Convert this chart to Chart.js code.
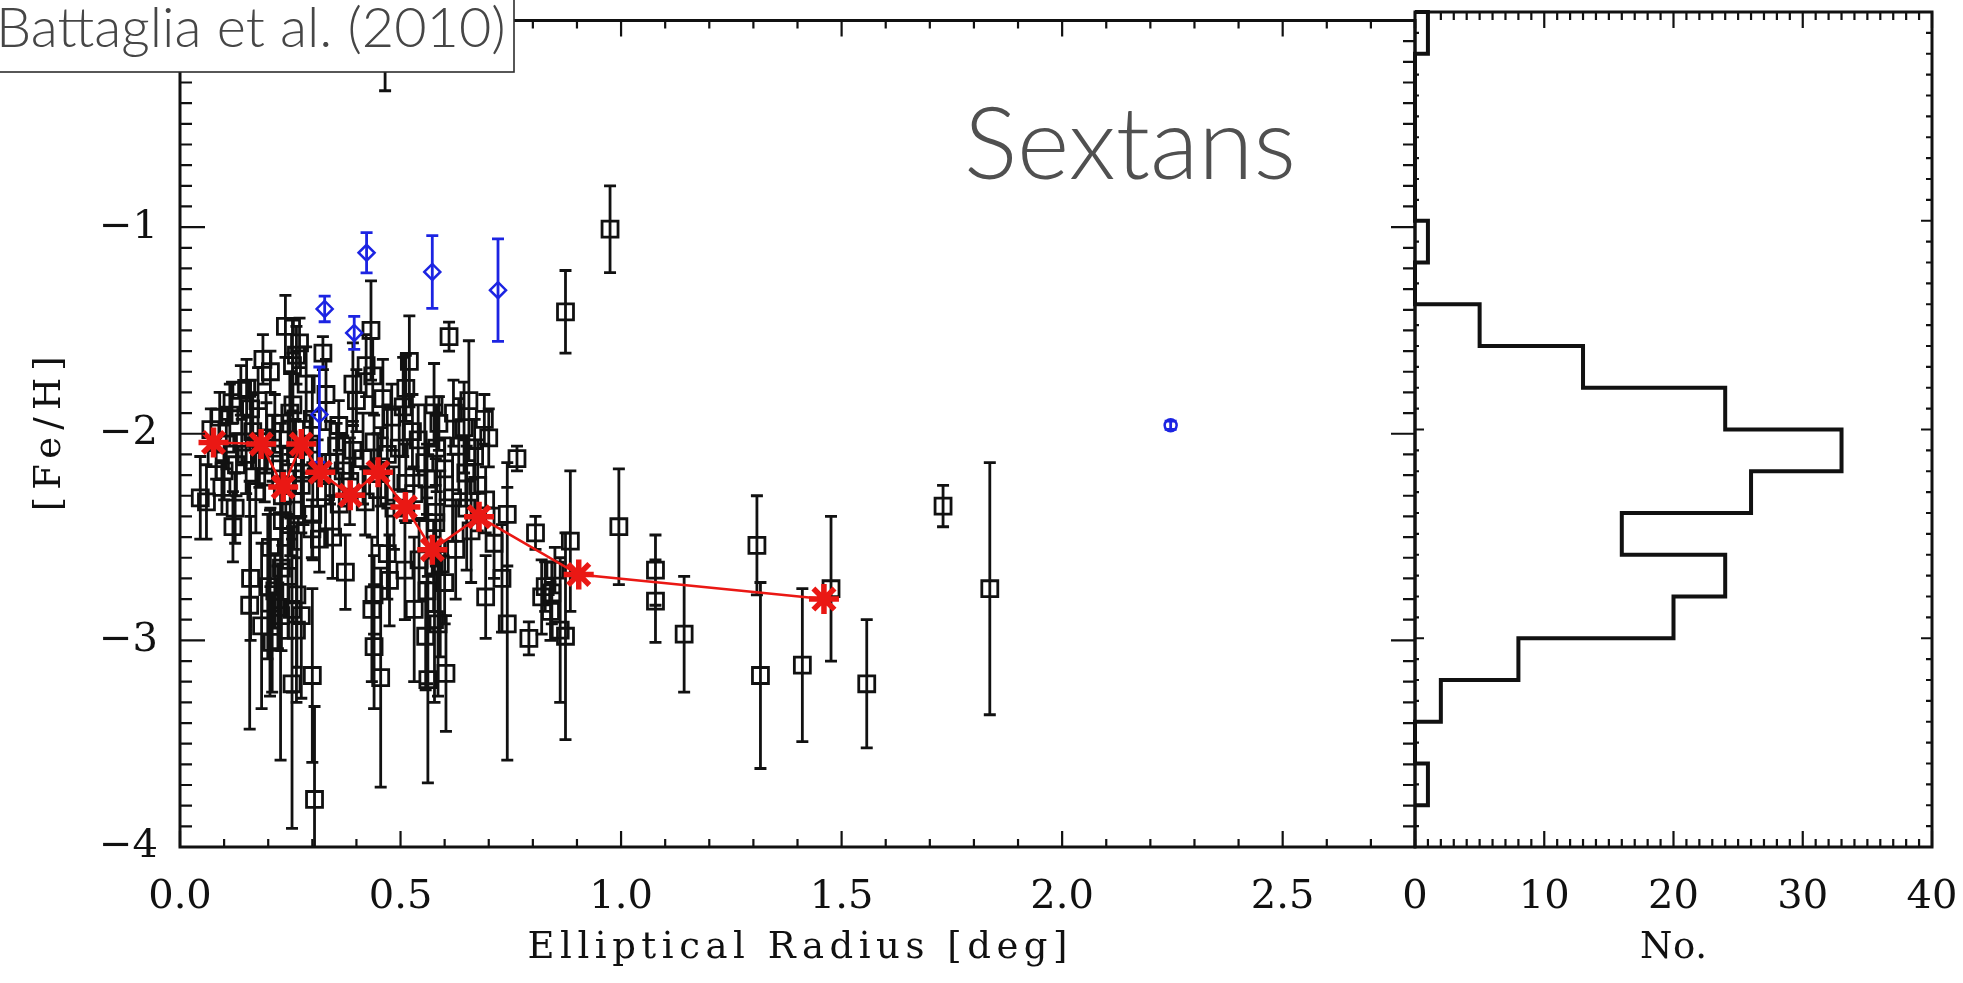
<!DOCTYPE html>
<html>
<head>
<meta charset="utf-8">
<title>Sextans [Fe/H] vs elliptical radius</title>
<script src="https://cdn.jsdelivr.net/npm/chart.js@4.4.1/dist/chart.umd.min.js"></script>
<style>
  html, body { margin: 0; padding: 0; background: #fff; }
  body { position: relative; width: 1963px; height: 983px; overflow: hidden; }
  canvas { position: absolute; top: 0; }
  #scatter { left: 0; }
  #hist { left: 1390px; }
</style>
</head>
<body>
<canvas id="scatter" width="1450" height="983"></canvas>
<canvas id="hist" width="573" height="983"></canvas>
<script>
// members: elliptical radius [deg], [Fe/H], 1-sigma error (grouped by 0.2 dex bin)
const memberR = [
  0.465, 0.975,
  0.874, 0.433, 0.610, 0.239, 0.271,
  0.324, 0.188, 0.520, 0.422, 0.437, 0.264, 0.512, 0.151, 0.392, 0.286, 0.205, 0.255, 0.138,
  0.177, 0.655, 0.576, 0.460, 0.256, 0.331, 0.113, 0.090, 0.644, 0.527, 0.118, 0.160, 0.249, 0.400, 0.506, 0.587, 0.620, 0.070, 0.215, 0.300, 0.360, 0.480, 0.690, 0.165,
  0.105, 0.128, 0.196, 0.392, 0.497, 0.648, 0.764, 0.082, 0.100, 0.140, 0.150, 0.180, 0.210, 0.228, 0.245, 0.262, 0.280, 0.295, 0.340, 0.355, 0.370, 0.415, 0.440, 0.455, 0.470, 0.540, 0.555, 0.582, 0.600, 0.632, 0.668, 0.700, 0.312,
  0.046, 0.060, 0.301, 0.361, 0.512, 0.580, 0.618, 0.693, 0.742, 0.095, 0.125, 0.172, 0.192, 0.232, 0.258, 0.275, 0.330, 0.385, 0.420, 0.448, 0.485, 0.530, 0.560, 0.650, 0.675, 1.730,
  0.120, 0.316, 0.346, 0.625, 0.806, 0.885, 0.995, 1.308, 0.299, 0.232, 0.580, 0.660, 0.205, 0.712, 0.470, 0.250,
  0.828, 0.843, 0.542, 0.375, 0.475, 0.199, 1.078, 1.836, 1.476, 0.693, 0.160, 0.230, 0.265, 0.245, 0.215, 0.590, 0.440, 0.510, 0.600, 0.575, 0.730, 0.850, 0.820, 0.560,
  0.158, 0.204, 0.254, 0.264, 0.435, 0.531, 0.577, 0.742, 0.557, 0.862, 0.874, 0.791, 1.078, 1.143, 0.185, 0.228, 0.222, 0.585, 0.275, 0.840,
  0.209, 0.440, 0.300, 0.455, 0.603, 1.316, 1.411, 0.562,
  0.254, 1.557,
  0.305
];
const memberFeH = [
  -0.14, -1.01,
  -1.41, -1.50, -1.53, -1.48, -1.56,
  -1.61, -1.64, -1.65, -1.67, -1.72, -1.62, -1.78, -1.78, -1.76, -1.76, -1.70, -1.67, -1.79,
  -1.84, -1.84, -1.86, -1.83, -1.86, -1.81, -1.91, -1.92, -1.97, -1.99, -1.85, -1.88, -1.90, -1.84, -1.87, -1.95, -1.90, -1.98, -1.95, -1.93, -1.96, -1.92, -1.93, -1.99,
  -2.05, -2.15, -2.02, -2.08, -2.07, -2.19, -2.12, -2.12, -2.18, -2.04, -2.10, -2.13, -2.07, -2.17, -2.03, -2.11, -2.19, -2.05, -2.14, -2.06, -2.18, -2.12, -2.04, -2.16, -2.10, -2.03, -2.14, -2.07, -2.17, -2.06, -2.11, -2.02, -2.19,
  -2.31, -2.33, -2.39, -2.34, -2.24, -2.38, -2.31, -2.32, -2.39, -2.26, -2.36, -2.28, -2.21, -2.30, -2.37, -2.25, -2.28, -2.23, -2.33, -2.27, -2.36, -2.29, -2.22, -2.36, -2.25, -2.35,
  -2.45, -2.51, -2.50, -2.56, -2.48, -2.52, -2.45, -2.54, -2.46, -2.42, -2.43, -2.47, -2.55, -2.53, -2.58, -2.44,
  -2.74, -2.77, -2.61, -2.67, -2.71, -2.74, -2.66, -2.75, -2.75, -2.79, -2.70, -2.65, -2.78, -2.69, -2.76, -2.63, -2.78, -2.66, -2.72, -2.64, -2.70, -2.66, -2.79, -2.76,
  -2.83, -2.82, -2.85, -2.95, -2.85, -2.85, -2.90, -2.92, -2.98, -2.95, -2.98, -2.99, -2.81, -2.97, -2.93, -2.88, -2.84, -2.92, -2.88, -2.86,
  -3.01, -3.03, -3.17, -3.18, -3.16, -3.17, -3.12, -3.19,
  -3.21, -3.21,
  -3.77
];
const memberErr = [
  0.20, 0.21,
  0.20, 0.24, 0.07, 0.15, 0.12,
  0.08, 0.12, 0.22, 0.15, 0.18, 0.14, 0.16, 0.14, 0.20, 0.18, 0.10, 0.22, 0.12,
  0.16, 0.29, 0.20, 0.19, 0.25, 0.17, 0.15, 0.12, 0.22, 0.18, 0.10, 0.14, 0.20, 0.15, 0.24, 0.13, 0.16, 0.10, 0.14, 0.21, 0.12, 0.16, 0.12, 0.18,
  0.12, 0.15, 0.17, 0.14, 0.20, 0.16, 0.06, 0.10, 0.14, 0.11, 0.19, 0.13, 0.16, 0.22, 0.12, 0.18, 0.25, 0.14, 0.20, 0.11, 0.17, 0.22, 0.13, 0.19, 0.24, 0.17, 0.28, 0.21, 0.15, 0.23, 0.18, 0.14, 0.16,
  0.20, 0.18, 0.22, 0.15, 0.19, 0.26, 0.21, 0.16, 0.25, 0.13, 0.17, 0.20, 0.12, 0.24, 0.19, 0.15, 0.18, 0.21, 0.16, 0.27, 0.20, 0.13, 0.17, 0.30, 0.22, 0.10,
  0.17, 0.16, 0.20, 0.24, 0.08, 0.34, 0.28, 0.24, 0.14, 0.21, 0.18, 0.25, 0.19, 0.17, 0.22, 0.15,
  0.12, 0.15, 0.20, 0.18, 0.22, 0.35, 0.17, 0.61, 0.35, 0.20, 0.30, 0.40, 0.35, 0.30, 0.18, 0.45, 0.19, 0.24, 0.20, 0.22, 0.26, 0.11, 0.18, 0.45,
  0.60, 0.45, 0.40, 0.35, 0.35, 0.35, 0.40, 0.66, 0.26, 0.35, 0.50, 0.08, 0.20, 0.28, 0.40, 0.70, 0.20, 0.35, 0.40, 0.14,
  0.24, 0.30, 0.42, 0.53, 0.28, 0.45, 0.37, 0.50,
  0.70, 0.31,
  0.45
];

// metal-rich stars shown in blue
const blueR = [0.328, 0.423, 0.395, 0.572, 0.721, 0.316];
const blueFeH = [-1.396, -1.124, -1.512, -1.217, -1.305, -1.907];
const blueErr = [0.062, 0.097, 0.080, 0.176, 0.248, 0.230];
const farR = [2.246];
const farFeH = [-1.959];
const farErr = [0.02];

// running mean along radius
const meanR = [0.076, 0.184, 0.234, 0.275, 0.318, 0.386, 0.449, 0.511, 0.572, 0.678, 0.904, 1.460];
const meanFeH = [-2.042, -2.050, -2.258, -2.050, -2.186, -2.298, -2.186, -2.354, -2.561, -2.402, -2.681, -2.800];

// [Fe/H] histogram, 0.2 dex bins from -3.8 upward
const binLow = [-3.8, -3.6, -3.4, -3.2, -3.0, -2.8, -2.6, -2.4, -2.2, -2.0, -1.8, -1.6, -1.4, -1.2, -1.0, -0.8, -0.6, -0.4, -0.2];
const binCount = [1, 0, 2, 8, 20, 24, 16, 26, 33, 24, 13, 5, 0, 1, 0, 0, 0, 0, 1];
const binWidth = 0.2;

const radiusTicks = [0, 0.5, 1.0, 1.5, 2.0, 2.5];
const fehTicks = [-4, -3, -2, -1, 0];
const countTicks = [0, 10, 20, 30, 40];

const serif = '"DejaVu Serif", "Liberation Serif", serif';
const sans = 'Lato, "Open Sans", sans-serif';
const ink = '#111';
const red = 'rgb(234, 24, 20)';
const blue = 'rgb(28, 36, 226)';

function points(xs, ys) {
  return xs.map((x, i) => ({ x: x, y: ys[i] }));
}

// step outline of the histogram, lying along the [Fe/H] axis
const histLine = [{ x: 0, y: binLow[0] }];
binCount.forEach((c, i) => {
  histLine.push({ x: c, y: binLow[i] }, { x: c, y: binLow[i] + binWidth });
});
histLine.push({ x: 0, y: binLow[binLow.length - 1] + binWidth });

function eachTick(min, max, minor, major, fn) {
  const n = Math.round((max - min) / minor);
  for (let i = 0; i <= n; i++) {
    const v = min + i * minor;
    const r = v / major;
    fn(v, Math.abs(r - Math.round(r)) < 1e-6);
  }
}

// edge labels may hang over the plot box; don't let them shrink it
function fixedX(h) {
  return s => { s.height = h; s.paddingLeft = 0; s.paddingRight = 0; };
}
function fixedY(w) {
  return s => { s.width = w; s.paddingTop = 0; s.paddingBottom = 0; };
}

// error bars with caps, drawn right after their own dataset
const errorBars = {
  id: 'errorBars',
  afterDatasetDraw(chart, args) {
    const ds = chart.data.datasets[args.index];
    if (!ds.errors) return;
    const { ctx, chartArea: a } = chart;
    const xs = chart.scales.x, ys = chart.scales.y;
    ctx.save();
    ctx.beginPath();
    ctx.rect(a.left, a.top, a.right - a.left, a.bottom - a.top);
    ctx.clip();
    ctx.strokeStyle = ds.borderColor;
    ctx.lineWidth = 2.8;
    ctx.beginPath();
    ds.data.forEach((p, i) => {
      const e = ds.errors[i];
      const px = xs.getPixelForValue(p.x);
      const t = ys.getPixelForValue(p.y + e);
      const b = ys.getPixelForValue(p.y - e);
      ctx.moveTo(px, t); ctx.lineTo(px, b);
      ctx.moveTo(px - 6, t); ctx.lineTo(px + 6, t);
      ctx.moveTo(px - 6, b); ctx.lineTo(px + 6, b);
    });
    ctx.stroke();
    ctx.restore();
  }
};

// box frame with inward major/minor ticks on all four sides
const frame = {
  id: 'frame',
  afterDraw(chart, args, o) {
    const { ctx, chartArea: a } = chart;
    const xs = chart.scales.x, ys = chart.scales.y;
    ctx.save();
    ctx.strokeStyle = ink;
    ctx.lineWidth = 2.2;
    ctx.beginPath();
    eachTick(xs.min, xs.max, o.xMinor, o.xMajor, (v, major) => {
      const px = xs.getPixelForValue(v);
      const len = major ? o.xLen[0] : o.xLen[1];
      ctx.moveTo(px, a.bottom); ctx.lineTo(px, a.bottom - len);
      ctx.moveTo(px, a.top); ctx.lineTo(px, a.top + len);
    });
    eachTick(ys.min, ys.max, o.yMinor, o.yMajor, (v, major) => {
      const py = ys.getPixelForValue(v);
      const l = major ? o.leftLen[0] : o.leftLen[1];
      const r = major ? o.rightLen[0] : o.rightLen[1];
      ctx.moveTo(a.left, py); ctx.lineTo(a.left + l, py);
      ctx.moveTo(a.right, py); ctx.lineTo(a.right - r, py);
    });
    ctx.stroke();
    ctx.lineWidth = 3;
    ctx.strokeRect(a.left, a.top, a.right - a.left, a.bottom - a.top);
    ctx.restore();
  }
};

// draw text spread out to a given width
function spacedText(ctx, text, cx, cy, width) {
  const hasSpacing = 'letterSpacing' in ctx;
  if (hasSpacing) ctx.letterSpacing = '0px';
  const w0 = ctx.measureText(text).width;
  const gap = Math.max(0, (width - w0) / (text.length - 1));
  if (hasSpacing) ctx.letterSpacing = gap + 'px';
  ctx.textAlign = 'left';
  ctx.fillText(text, cx - Math.max(w0, hasSpacing ? width : w0) / 2, cy);
}

const titles = {
  id: 'titles',
  afterDraw(chart, args, o) {
    const { ctx, chartArea: a } = chart;
    ctx.save();
    ctx.fillStyle = ink;
    ctx.font = '37px ' + serif;
    ctx.textBaseline = 'alphabetic';
    spacedText(ctx, o.x, (a.left + a.right) / 2, o.xBase, o.xWidth);
    if (o.y) {
      ctx.translate(o.yAt, (a.top + a.bottom) / 2);
      ctx.rotate(-Math.PI / 2);
      spacedText(ctx, o.y, 0, 13, o.yWidth);
    }
    ctx.restore();
  }
};

// reference box and galaxy name
function fitFont(ctx, text, weight, family, width) {
  ctx.font = weight + ' 100px ' + family;
  const size = 100 * width / ctx.measureText(text).width;
  ctx.font = weight + ' ' + size.toFixed(1) + 'px ' + family;
}
const notes = {
  id: 'notes',
  afterDraw(chart) {
    const ctx = chart.ctx;
    ctx.save();
    ctx.fillStyle = '#fff';
    ctx.fillRect(-10, -10, 524, 82);
    ctx.strokeStyle = '#2e2e2e';
    ctx.lineWidth = 1.6;
    ctx.strokeRect(-10, -10, 524, 82);
    ctx.fillStyle = '#464646';
    ctx.textBaseline = 'alphabetic';
    ctx.textAlign = 'left';
    fitFont(ctx, 'Battaglia et al. (2010)', 300, sans, 510);
    ctx.fillText('Battaglia et al. (2010)', -4, 47);
    ctx.fillStyle = '#505050';
    fitFont(ctx, 'Sextans', 300, sans, 332);
    ctx.fillText('Sextans', 964, 179);
    ctx.restore();
  }
};

const tickFont = { family: serif, size: 40 };

new Chart(document.getElementById('scatter'), {
  type: 'scatter',
  data: {
    datasets: [
      {
        data: points(meanR, meanFeH),
        showLine: true,
        borderColor: red,
        backgroundColor: red,
        borderWidth: 2.5,
        pointStyle: 'star',
        pointRadius: 15,
        pointBorderWidth: 5.5,
        tension: 0,
        clip: 0,
        order: 0
      },
      {
        data: points(blueR, blueFeH),
        errors: blueErr,
        borderColor: blue,
        backgroundColor: 'rgba(0,0,0,0)',
        pointStyle: 'rectRot',
        pointRadius: 8,
        pointBorderWidth: 2.5,
        clip: 0,
        order: 1
      },
      {
        data: points(farR, farFeH),
        errors: farErr,
        borderColor: blue,
        backgroundColor: 'rgba(0,0,0,0)',
        pointStyle: 'circle',
        pointRadius: 6,
        pointBorderWidth: 2.5,
        clip: 0,
        order: 1
      },
      {
        data: points(memberR, memberFeH),
        errors: memberErr,
        borderColor: ink,
        backgroundColor: 'rgba(0,0,0,0)',
        pointStyle: 'rect',
        pointRadius: 11.3,
        pointBorderWidth: 2.8,
        clip: 0,
        order: 2
      }
    ]
  },
  options: {
    responsive: false,
    animation: false,
    devicePixelRatio: 1,
    layout: { padding: { top: 12, right: 35, left: 0, bottom: 0 } },
    plugins: {
      legend: { display: false },
      tooltip: { enabled: false },
      frame: { xMinor: 0.1, xMajor: 0.5, yMinor: 0.1, yMajor: 1, xLen: [16, 8], leftLen: [25, 12], rightLen: [24, 12] },
      titles: { x: 'Elliptical Radius [deg]', xBase: 958, xWidth: 540, y: '[Fe/H]', yAt: 47, yWidth: 155 }
    },
    scales: {
      x: {
        type: 'linear',
        min: 0,
        max: 2.8,
        grid: { display: false, drawTicks: false },
        border: { display: false },
        afterFit: fixedX(136),
        afterBuildTicks: s => { s.ticks = radiusTicks.map(v => ({ value: v })); },
        ticks: { font: tickFont, color: ink, padding: 27, maxRotation: 0, autoSkip: false, callback: v => v.toFixed(1) }
      },
      y: {
        type: 'linear',
        min: -4,
        max: 0,
        grid: { display: false, drawTicks: false },
        border: { display: false },
        afterFit: fixedY(180),
        afterBuildTicks: s => { s.ticks = fehTicks.map(v => ({ value: v })); },
        ticks: { font: tickFont, color: ink, padding: 22, autoSkip: false, callback: v => v < 0 ? '\u2212' + Math.abs(v) : String(v) }
      }
    }
  },
  plugins: [errorBars, frame, titles, notes]
});

new Chart(document.getElementById('hist'), {
  type: 'scatter',
  data: {
    datasets: [{
      data: histLine,
      showLine: true,
      borderColor: ink,
      borderWidth: 4,
      pointRadius: 0,
      tension: 0,
      clip: 2
    }]
  },
  options: {
    responsive: false,
    animation: false,
    devicePixelRatio: 1,
    layout: { padding: { top: 12, right: 31, left: 25, bottom: 0 } },
    plugins: {
      legend: { display: false },
      tooltip: { enabled: false },
      frame: { xMinor: 1, xMajor: 10, yMinor: 0.1, yMajor: 1, xLen: [16, 8], leftLen: [9, 4], rightLen: [11, 6] },
      titles: { x: 'No.', xBase: 958, xWidth: 67 }
    },
    scales: {
      x: {
        type: 'linear',
        min: 0,
        max: 40,
        grid: { display: false, drawTicks: false },
        border: { display: false },
        afterFit: fixedX(136),
        afterBuildTicks: s => { s.ticks = countTicks.map(v => ({ value: v })); },
        ticks: { font: tickFont, color: ink, padding: 27, maxRotation: 0, autoSkip: false }
      },
      y: {
        type: 'linear',
        display: false,
        min: -4,
        max: 0
      }
    }
  },
  plugins: [frame, titles]
});
</script>
</body>
</html>
